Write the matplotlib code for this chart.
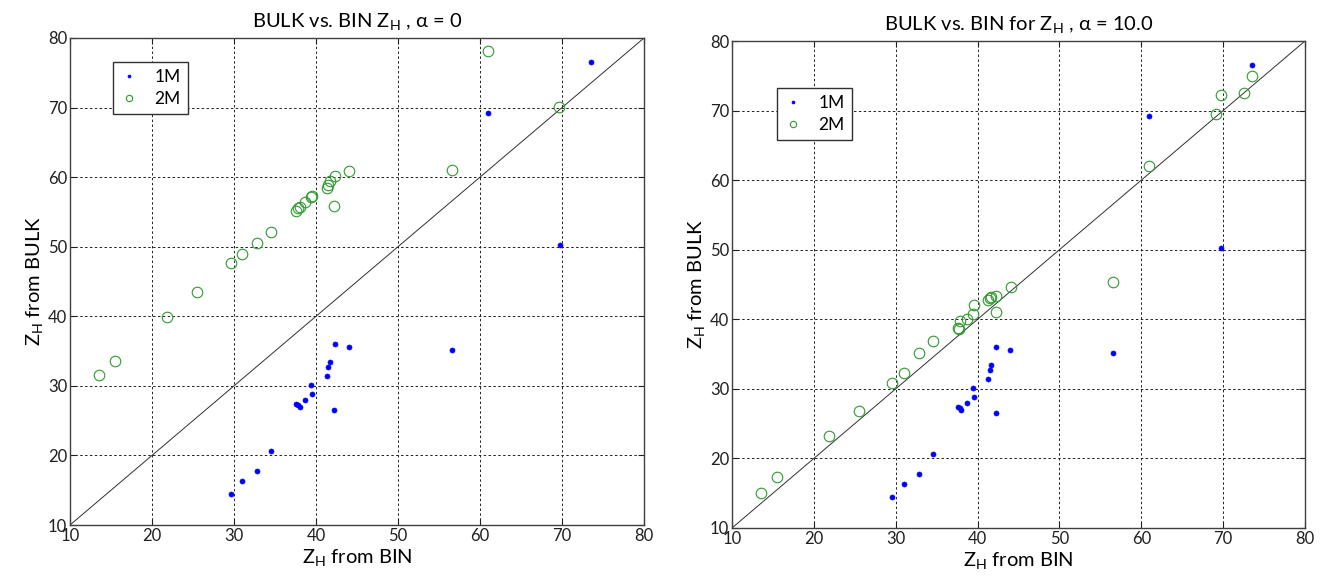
import matplotlib
matplotlib.use("Agg")
import matplotlib.pyplot as plt

plt.rcParams['font.family'] = ['Lato', 'DejaVu Sans']
plt.rcParams['mathtext.default'] = 'regular'

# ---- data ----
bin_1m = [29.6, 31.0, 32.8, 34.5, 37.6, 37.8, 38.0, 38.7, 39.4, 39.55,
          41.3, 41.5, 41.7, 42.25, 42.3, 44.0, 56.6, 61.0, 69.7, 73.5]
bulk_1m = [14.5, 16.3, 17.7, 20.6, 27.4, 27.2, 26.9, 27.9, 30.1, 28.9,
           31.4, 32.7, 33.5, 26.6, 36.0, 35.6, 35.2, 69.2, 50.2, 76.5]

bin_2m_a0 = [13.5, 15.5, 21.8, 25.5, 29.6, 31.0, 32.8, 34.5, 37.6, 37.8,
             38.0, 38.7, 39.4, 39.55, 41.3, 41.5, 41.7, 42.25, 42.3, 44.0,
             56.6, 61.0, 69.6]
bulk_2m_a0 = [31.5, 33.6, 39.9, 43.5, 47.6, 48.9, 50.6, 52.1, 55.2, 55.5,
              55.7, 56.4, 57.1, 57.3, 58.4, 58.9, 59.4, 55.8, 60.2, 60.9,
              61.0, 78.2, 70.1]

bin_2m_a10 = [13.5, 15.5, 21.9, 25.5, 29.6, 31.0, 32.8, 34.5, 37.6, 37.7,
              37.9, 38.7, 39.5, 39.55, 41.3, 41.5, 41.6, 42.3, 42.25, 44.1,
              56.6, 61.0, 69.1, 69.7, 72.6, 73.5]
bulk_2m_a10 = [15.0, 17.3, 23.2, 26.8, 30.8, 32.3, 35.1, 36.9, 38.7, 38.6,
               39.7, 40.05, 40.8, 42.0, 42.8, 43.0, 43.15, 43.4, 41.05, 44.6,
               45.3, 62.1, 69.5, 72.2, 72.5, 74.9]

diag = [10, 80]
ticks = [10, 20, 30, 40, 50, 60, 70, 80]
titles = ['BULK vs. BIN Z$_{H}$ , \u03b1 = 0',
          'BULK vs. BIN for Z$_{H}$ , \u03b1 = 10.0']

W, H = 1330, 581
fig = plt.figure(figsize=(W / 100, H / 100), dpi=100)
rects = [(70 / W, (H - 525) / H, 574 / W, 487 / H),
         (732 / W, (H - 528) / H, 573 / W, 487 / H)]
leg_pos = [(113, 62), (777, 88)]

green = '#2f9a2f'
series2 = [(bin_2m_a0, bulk_2m_a0), (bin_2m_a10, bulk_2m_a10)]

for i in range(2):
    ax = fig.add_axes(rects[i])
    ax.plot(diag, diag, color='#303030', lw=0.7, zorder=2)
    ax.plot(bin_1m, bulk_1m, linestyle='none', marker='o', ms=3.6,
            mfc='#0000ff', mec='#0000ff', mew=0.5, label='1M', zorder=3)
    ax.plot(series2[i][0], series2[i][1], linestyle='none', marker='o', ms=7.6,
            mfc='none', mec=green, mew=0.8, label='2M', zorder=3)
    ax.set_xlim(10, 80)
    ax.set_ylim(10, 80)
    ax.set_xticks(ticks)
    ax.set_yticks(ticks)
    ax.grid(True, color='#202020', linestyle=(0, (2.5, 2.5)), lw=0.7)
    ax.tick_params(direction='in', length=4, width=0.8, top=True, right=True,
                   labelsize=12, colors='#202020', pad=2)
    for s in ax.spines.values():
        s.set_color('#404040')
        s.set_linewidth(1.0)
    ax.set_title(titles[i], fontsize=14.5, pad=8)
    ax.set_xlabel('Z$_{H}$ from BIN', fontsize=14.5, labelpad=2)
    ax.set_ylabel('Z$_{H}$ from BULK', fontsize=14.5, labelpad=2)
    lx, ly = leg_pos[i]
    bx = (lx - 70 - (662 if i else 0)) / 574
    by = 1 - (ly - (38 if i == 0 else 41)) / 487
    leg = ax.legend(loc='upper left', bbox_to_anchor=(bx, by), fontsize=12.5,
                    markerscale=0.6, fancybox=False, framealpha=1,
                    edgecolor='#303030', borderpad=0.4, handlelength=1.0,
                    handletextpad=1.0, labelspacing=0.35, borderaxespad=0)
    leg.get_frame().set_linewidth(1.0)

fig.savefig('out.png', dpi=100)
